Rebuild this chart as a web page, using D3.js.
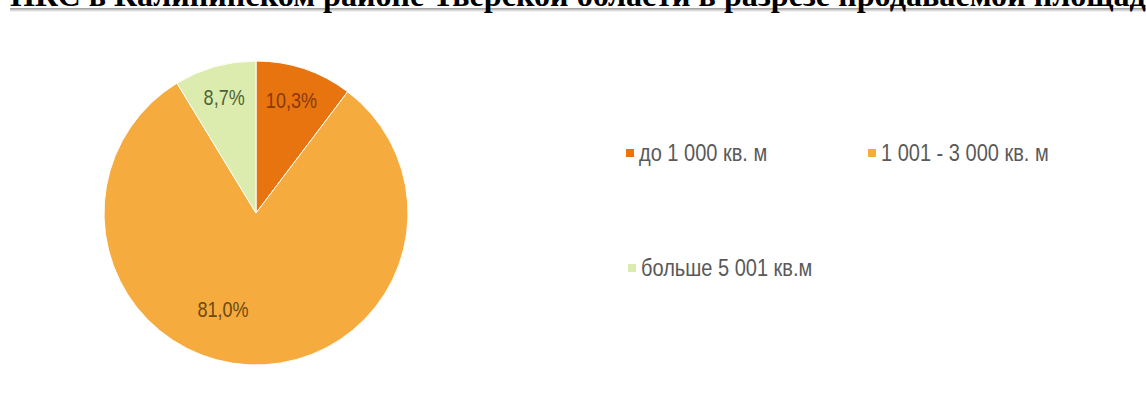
<!DOCTYPE html>
<html><head><meta charset="utf-8">
<script src="https://cdn.jsdelivr.net/npm/d3@7"></script>
<style>
html,body{margin:0;padding:0;background:#fff;overflow:hidden}
svg{display:block}
</style></head>
<body>
<script>
const categories = ["до 1 000 кв. м", "1 001 - 3 000 кв. м", "больше 5 001 кв.м"];
const values = [10.3, 81.0, 8.7];
const valueLabels = ["10,3%", "81,0%", "8,7%"];
const titleText = "ПКС в Калининском районе Тверской области в разрезе продаваемой площади";

const colors = ["#E8740F", "#F6AB3F", "#DCECAF"];
const labelColors = ["#863A0C", "#6B4A12", "#4E6335"];
const labelAngleShift = [-0.02, 0.28, 0.005];
const labelRadiusK = [0.78, 0.67, 0.79];

const W = 1146, H = 405;
const svg = d3.select("body").append("svg").attr("width", W).attr("height", H);
const narrowFont = "'Liberation Sans',Arial,sans-serif";

// title (clipped at the top as in the source)
const defs = svg.append("defs");
const g1 = defs.append("linearGradient").attr("id","rule").attr("x1",0).attr("y1",0).attr("x2",0).attr("y2",1);
g1.append("stop").attr("offset","0%").attr("stop-color","#9a9a9a");
g1.append("stop").attr("offset","100%").attr("stop-color","#ffffff");
svg.append("rect").attr("x",10).attr("y",8).attr("width",W-10).attr("height",4).attr("fill","url(#rule)");

const title = svg.append("text")
  .attr("x", 10).attr("y", 6)
  .attr("font-family","'Liberation Serif','Times New Roman',serif")
  .attr("font-weight","bold").attr("font-size", 22).attr("fill","#000")
  .text(titleText);
const sub = titleText.slice(0, titleText.length - 1);
const tmp = svg.append("text").attr("font-family","'Liberation Serif','Times New Roman',serif")
  .attr("font-weight","bold").attr("font-size",22).text(sub);
const len = tmp.node().getComputedTextLength(); tmp.remove();
title.attr("font-size", 22 * (W - 10) / len);

// pie
const cx = 256, cy = 213, R = 152;
const pie = d3.pie().sort(null).value(d => d)(values);
const arc = d3.arc().innerRadius(0).outerRadius(R);
const pg = svg.append("g").attr("transform", `translate(${cx},${cy})`);
pg.selectAll("path").data(pie).join("path")
  .attr("d", arc).attr("fill", (d,i) => colors[i])
  .attr("stroke", "#fff").attr("stroke-width", 1);

pg.selectAll("text.lbl").data(pie).join("text").attr("class","lbl")
  .attr("transform", (d,i) => {
    const a = (d.startAngle + d.endAngle)/2 + labelAngleShift[i];
    const r = R * labelRadiusK[i];
    return `translate(${r*Math.sin(a)},${-r*Math.cos(a)}) scale(0.82,1)`;
  })
  .attr("text-anchor","middle").attr("dy","0.36em")
  .attr("font-family", narrowFont)
  .attr("font-size", 22).attr("fill", (d,i) => labelColors[i])
  .text((d,i) => valueLabels[i]);

// legend
const legendPos = [[626,153],[868,153],[628,268]];
const items = svg.append("g").selectAll("g").data(categories).join("g")
  .attr("transform", (d,i) => `translate(${legendPos[i][0]},${legendPos[i][1]})`);
items.append("rect").attr("x",0).attr("y",-4).attr("width",8).attr("height",8)
  .attr("fill", (d,i) => colors[i]);
items.append("text").attr("transform","translate(13,0) scale(0.87,1)").attr("dy","0.36em")
  .attr("font-family", narrowFont)
  .attr("font-size", 23).attr("fill","#595959")
  .text(d => d);
</script>
</body></html>
